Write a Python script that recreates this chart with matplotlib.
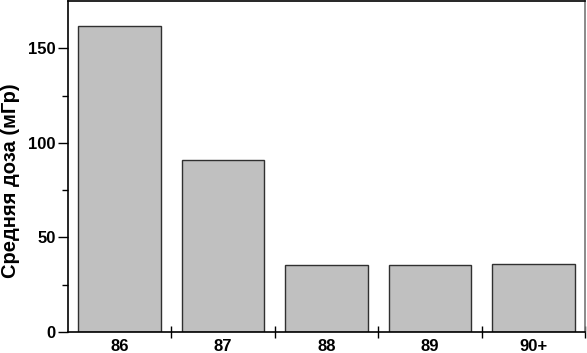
import matplotlib.pyplot as plt
import numpy as np

plt.rcParams['font.family'] = ['Liberation Sans', 'DejaVu Sans']
plt.rcParams['font.weight'] = 'bold'

categories = ['86', '87', '88', '89', '90+']
dose = [162, 91, 35.5, 35.5, 36]

fig = plt.figure(figsize=(5.87, 3.53), dpi=100)
ax = fig.add_axes([0.1158, 0.0595, 0.8808, 0.9375])

x = np.arange(len(categories))
ax.bar(x, dose, width=0.8, color='#c0c0c0', edgecolor='#303030', linewidth=1.0)

ax.set_xlim(-0.5, len(categories) - 0.5)
ax.set_ylim(0, 175)
ax.set_xticks(x)
ax.set_xticklabels(categories, fontsize=12, fontweight='bold')
ax.set_xticks(np.arange(len(categories)) + 0.5, minor=True)
ax.tick_params(axis='x', which='major', length=0, pad=5)
ax.tick_params(axis='x', which='minor', length=8, direction='inout', width=1)

ax.set_yticks([0, 50, 100, 150])
ax.set_yticks([25, 75, 125], minor=True)
ax.tick_params(axis='y', which='major', length=7, width=1, labelsize=12, pad=2)
ax.tick_params(axis='y', which='minor', length=4, width=1)
for lab in ax.get_yticklabels():
    lab.set_fontweight('bold')

for s in ax.spines.values():
    s.set_linewidth(1.2)
ax.spines['right'].set_color('#777777')

ax.set_ylabel('Средняя доза (мГр)', fontsize=14.5, fontweight='bold')
ax.yaxis.set_label_coords(-0.092, 0.456)

fig.savefig('out.png', dpi=100)
